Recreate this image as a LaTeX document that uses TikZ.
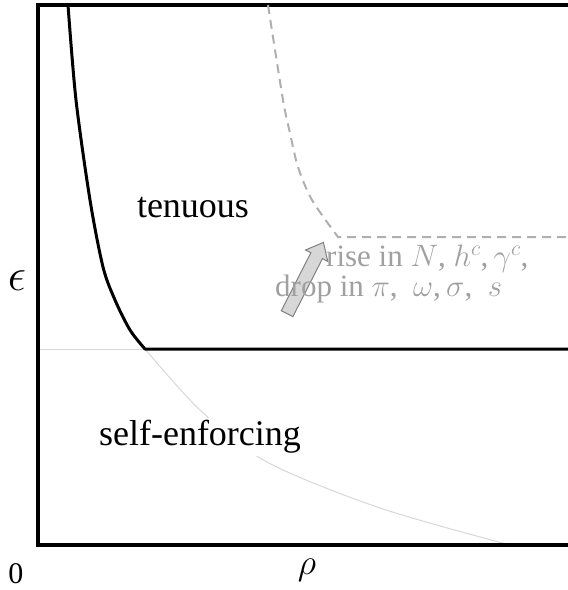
\RequirePackage{fix-cm}
\documentclass[tikz,border=0pt]{standalone}
\usepackage{fontspec}
\setmainfont{Liberation Serif}
\usepackage{tikz}
\usetikzlibrary{arrows.meta,positioning,shapes.arrows}
\definecolor{lblgray}{RGB}{160,160,160}
\definecolor{dashgray}{RGB}{175,175,175}
\definecolor{thingray}{RGB}{215,215,215}
\definecolor{arrfill}{RGB}{215,215,215}

\begin{document}
\begin{tikzpicture}[x=1pt,y=-1pt,
  region/.style={font=\fontsize{36}{40}\selectfont,inner sep=2pt},
  axlabel/.style={font=\fontsize{36}{40}\selectfont},
  shiftlbl/.style={font=\fontsize{31}{30}\selectfont,text=lblgray,anchor=west,align=left,inner sep=0pt},
  border/.style={line width=4.5pt},
  bound/.style={line width=3pt},
  oldbound/.style={thingray,line width=1pt},
  newbound/.style={dashgray,line width=2pt,dash pattern=on 9pt off 6pt}]
  \useasboundingbox (0,0) rectangle (568,590);
  % old boundary (thin gray), hidden behind the region label
  \draw[oldbound] (38,349) -- (145,349);
  \draw[oldbound] plot[smooth] coordinates {(145,349) (200,410) (267,462) (380,508) (510,545)};
  % regions
  \node[region] (tenuous) at (193,208) {tenuous};
  \node[region,fill=white] (selfenf) at (200,437) {self-enforcing};
  % frame
  \draw[border] (568,5) -- (38,5) -- (38,545) -- (568,545);
  % boundary
  \draw[bound,line join=round] plot[smooth] coordinates {(68,5) (76,100) (90,200) (103,267) (115,300) (130,330) (145,349)} -- (568,349);
  % shifted boundary
  \draw[newbound] plot[smooth] coordinates {(268,5) (283,100) (290,133) (298,167) (312,200) (338,237)} -- (568,237);
  % shift arrow and its causes
  \node[single arrow,draw=gray,fill=arrfill,line width=1pt,minimum height=80pt,
    inner xsep=0pt,inner ysep=6pt,single arrow head extend=6pt,single arrow tip angle=80,
    rotate=63] (shift) at (303.5,281.5) {};
  \node[shiftlbl] (causes) at (275,274)
    {\hspace*{51pt}rise in $N$,\ $h^c$,\,$\gamma^c$,\\drop in $\pi$,\enspace$\omega$,\,$\sigma$,\enspace$s$};
  % axes
  \node[font=\fontsize{46}{50}\selectfont] (eps) at (17,281) {$\epsilon$};
  \node[axlabel] (rho) at (307,570) {$\rho$};
  \node[font=\fontsize{30}{34}\selectfont] (zero) at (16,574) {0};
\end{tikzpicture}
\end{document}
